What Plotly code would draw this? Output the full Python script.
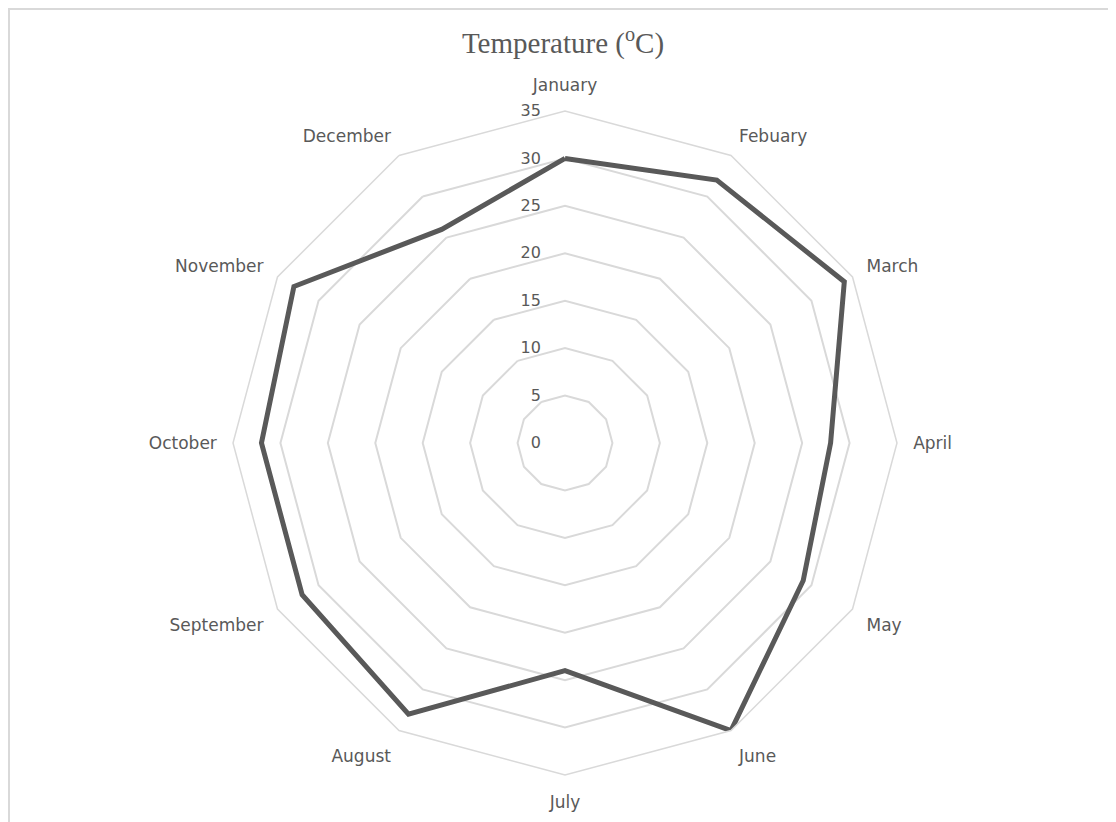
import plotly.graph_objects as go

months = ["January", "Febuary", "March", "April", "May", "June", "July",
          "August", "September", "October", "November", "December"]
temps = [30, 32, 34, 28, 29, 35, 24, 33, 32, 32, 33, 26]

W, H = 1116, 822
OFF = 8  # page body margin shifts the figure
grey = "#595959"
grid = "#d9d9d9"


def px_x(x):
    return (x - OFF) / W


def px_y(y):
    return 1 - (y - OFF) / H


fig = go.Figure()
fig.add_trace(go.Scatterpolar(
    r=temps + temps[:1],
    theta=months + months[:1],
    mode="lines",
    line=dict(color=grey, width=5),
    showlegend=False,
    hoverinfo="skip",
))

fig.update_layout(
    width=W, height=H,
    margin=dict(l=0, r=0, t=0, b=0),
    paper_bgcolor="white",
    font=dict(family="DejaVu Sans, sans-serif", size=16, color=grey),
    title=dict(text="Temperature (<sup>o</sup>C)", x=px_x(563), xanchor="center",
               y=px_y(43), yanchor="middle",
               font=dict(family="Liberation Serif, serif", size=29, color=grey)),
    polar=dict(
        domain=dict(x=[px_x(233), px_x(897)], y=[px_y(775), px_y(111)]),
        bgcolor="white",
        gridshape="linear",
        radialaxis=dict(range=[0, 35], dtick=5, angle=90, tickangle=90,
                        showline=False, ticks="outside", ticklen=18,
                        tickcolor="rgba(0,0,0,0)", gridcolor=grid, gridwidth=1.5,
                        side="counterclockwise",
                        tickfont=dict(size=16, color=grey)),
        angularaxis=dict(direction="clockwise", rotation=90, showgrid=False,
                         linecolor=grid, linewidth=1.5, ticks="outside",
                         ticklen=12, tickcolor="rgba(0,0,0,0)",
                         tickfont=dict(size=17, color=grey)),
    ),
    shapes=[dict(type="rect", xref="paper", yref="paper",
                 x0=1 / W, x1=1.02, y0=-0.02, y1=1 - 1 / H,
                 line=dict(color=grid, width=2), fillcolor="rgba(0,0,0,0)")],
)

fig.write_html("out.html")
